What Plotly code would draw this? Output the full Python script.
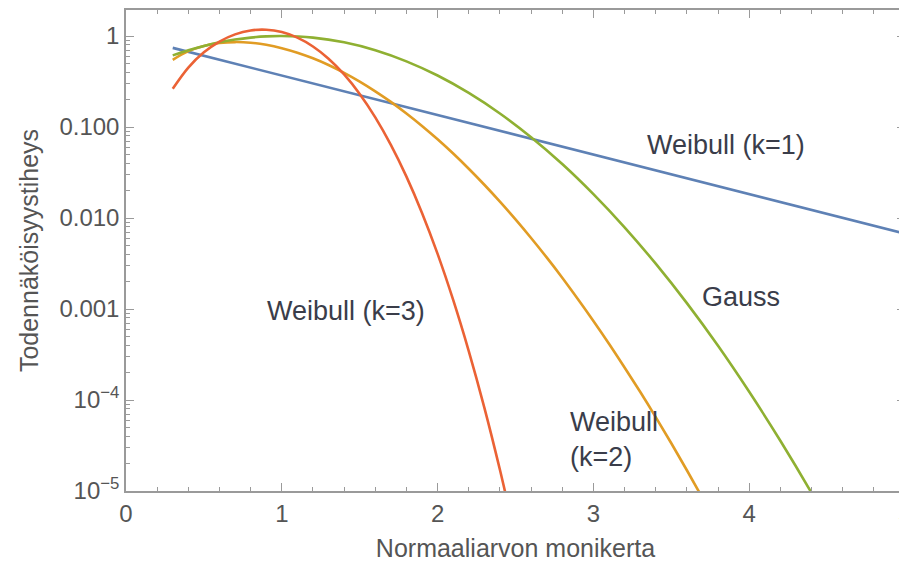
import plotly.graph_objects as go

# Values
x_k1 = [0.3, 1.0, 2.0, 3.0, 4.0, 5.0]
y_k1 = [0.741, 0.368, 0.135, 0.0498, 0.0183, 0.00674]

x_k2 = [0.3, 0.4, 0.5, 0.6, 0.7, 0.8, 0.9, 1.0, 1.1, 1.2, 1.3, 1.4, 1.5, 1.6, 1.7, 1.8, 1.9,
        2.0, 2.1, 2.2, 2.3, 2.4, 2.5, 2.6, 2.7, 2.8, 2.9, 3.0, 3.1, 3.2, 3.3, 3.4, 3.5, 3.6, 3.7, 3.8]
y_k2 = [0.548, 0.682, 0.779, 0.837, 0.858, 0.844, 0.801, 0.736, 0.656, 0.569, 0.480, 0.394, 0.316,
        0.247, 0.189, 0.141, 0.1028, 0.0733, 0.0511, 0.0348, 0.0232, 0.01513, 0.00965, 0.00603,
        0.00369, 0.00221, 0.00129, 0.000740, 0.000416, 0.000228, 0.000123, 6.49e-5, 3.35e-5,
        1.69e-5, 8.39e-6, 4.07e-6]

x_k3 = [0.3, 0.4, 0.5, 0.6, 0.7, 0.8, 0.9, 1.0, 1.1, 1.2, 1.3, 1.4, 1.5, 1.6, 1.7, 1.8, 1.9,
        2.0, 2.1, 2.2, 2.3, 2.4, 2.5]
y_k3 = [0.263, 0.450, 0.662, 0.870, 1.043, 1.151, 1.172, 1.104, 0.959, 0.767, 0.563, 0.378, 0.231,
        0.1278, 0.0637, 0.0285, 0.01137, 0.00403, 0.001258, 0.000345, 8.26e-5, 1.71e-5, 3.07e-6]

x_gauss = [0.3, 0.4, 0.5, 0.6, 0.7, 0.8, 0.9, 1.0, 1.2, 1.4, 1.6, 1.8, 2.0, 2.2, 2.4, 2.6, 2.8,
           3.0, 3.2, 3.4, 3.6, 3.8, 4.0, 4.2, 4.4, 4.6]
y_gauss = [0.613, 0.698, 0.779, 0.852, 0.914, 0.961, 0.990, 1.0, 0.961, 0.852, 0.698, 0.527, 0.368,
           0.237, 0.141, 0.0773, 0.0392, 0.0183, 0.00791, 0.00315, 0.00116, 0.000394, 0.000123,
           3.57e-5, 9.54e-6, 2.35e-6]

y_tickvals = [1, 0.1, 0.01, 0.001, 1e-4, 1e-5]
y_ticktext = ["1", "0.100", "0.010", "0.001", "10<sup>\u22124</sup>", "10<sup>\u22125</sup>"]
x_tickvals = [0, 1, 2, 3, 4, 5]

BLUE = "#5E81B5"
ORANGE = "#E19C24"
GREEN = "#8FB032"
RED = "#EB6235"

fig = go.Figure()
fig.add_trace(go.Scatter(x=x_k1, y=y_k1, mode="lines", line=dict(color=BLUE, width=2.6)))
fig.add_trace(go.Scatter(x=x_k2, y=y_k2, mode="lines", line=dict(color=ORANGE, width=2.6, shape="spline")))
fig.add_trace(go.Scatter(x=x_gauss, y=y_gauss, mode="lines", line=dict(color=GREEN, width=2.6, shape="spline")))
fig.add_trace(go.Scatter(x=x_k3, y=y_k3, mode="lines", line=dict(color=RED, width=2.6, shape="spline")))

font_family = "Liberation Sans, Arial, sans-serif"
ann_font = dict(family=font_family, size=27, color="#3a3d4a")
fig.add_annotation(x=3.85, y=-1.2, text="Weibull (k=1)", showarrow=False, font=ann_font)
fig.add_annotation(x=3.95, y=-2.87, text="Gauss", showarrow=False, font=ann_font)
fig.add_annotation(x=1.41, y=-3.02, text="Weibull (k=3)", showarrow=False, font=ann_font)
fig.add_annotation(x=2.84, y=-4.43, text="Weibull<br>(k=2)", showarrow=False, font=ann_font,
                   xanchor="left", align="left")

minor_y = []
for e in range(-5, 1):
    for m in range(2, 10):
        v = m * 10 ** e
        if v < 1.95:
            minor_y.append(v)

axis_color = "#9a9a9a"
tick_font = dict(family=font_family, size=24, color="#555555")
title_font = dict(family=font_family, size=25, color="#555555")
fig.update_xaxes(range=[0, 5], tickvals=x_tickvals, ticks="inside", ticklen=8, tickcolor=axis_color,
                 showline=True, linecolor=axis_color, linewidth=1.5, mirror="allticks",
                 showgrid=False, zeroline=False, tickfont=tick_font, automargin=False,
                 ticklabeloverflow="allow",
                 minor=dict(dtick=0.2, ticks="inside", ticklen=4, tickcolor=axis_color, showgrid=False),
                 title=dict(text="Normaaliarvon monikerta", font=title_font, standoff=14))
fig.update_yaxes(type="log", range=[-5, 0.286], tickvals=y_tickvals, ticktext=y_ticktext,
                 ticks="inside", ticklen=8, tickcolor=axis_color,
                 showline=True, linecolor=axis_color, linewidth=1.5, mirror="allticks",
                 showgrid=False, zeroline=False, tickfont=tick_font, automargin=False,
                 ticklabeloverflow="allow",
                 minor=dict(tickvals=minor_y, ticks="inside", ticklen=4, tickcolor=axis_color, showgrid=False),
                 title=dict(text="Todennäköisyystiheys", font=title_font, standoff=14))

# page body has an 8px default margin, so the figure is sized/offset to compensate
fig.update_layout(width=899, height=564, showlegend=False, plot_bgcolor="white", paper_bgcolor="white",
                  margin=dict(l=118, r=2, t=2, b=81))

fig.write_html("out.html")
